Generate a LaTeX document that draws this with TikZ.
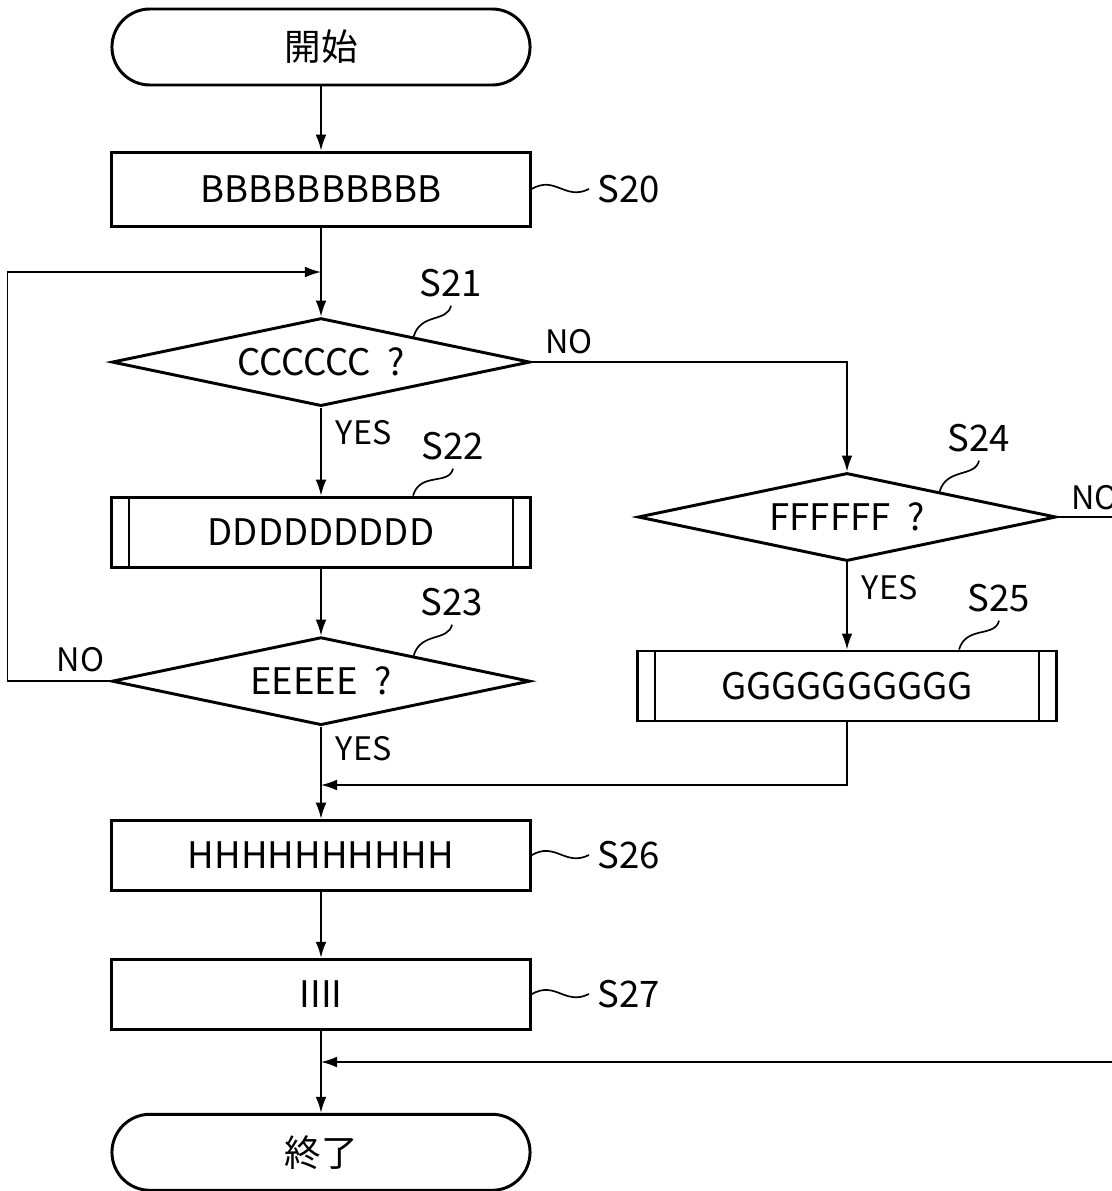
\documentclass[tikz,border=0pt]{standalone}
\usepackage{fontspec}
\setmainfont{Noto Sans CJK JP}
\usetikzlibrary{shapes.geometric,arrows.meta,calc}

\begin{document}
\begin{tikzpicture}[x=0.025cm, y=-0.025cm, line width=1.2pt, >={Latex[length=4mm, width=2.7mm]},
    every node/.style = {font=\fontsize{26}{31}\selectfont},
    term/.style = {draw, line width=2.1pt, rounded corners=0.95cm, minimum width=10.45cm, minimum height=1.9cm},
    proc/.style = {draw, line width=2.1pt, minimum width=10.45cm, minimum height=1.75cm},
    subproc/.style = {proc, path picture={
        \draw[line width=1.2pt] ([xshift=0.425cm]path picture bounding box.north west) -- ([xshift=0.425cm]path picture bounding box.south west)
          ([xshift=-0.425cm]path picture bounding box.north east) -- ([xshift=-0.425cm]path picture bounding box.south east);}},
    decision/.style = {draw, diamond, line width=2.1pt, aspect=4.75, inner sep=0pt, minimum width=10.45cm, minimum height=2.2cm},
    yesno/.style = {font=\fontsize{23}{26}\selectfont, inner sep=0pt},
    steplabel/.style = {inner sep=0.2cm}]
  \useasboundingbox (0,0) rectangle (1112,1191);

  % main column
  \node[term] (start) at (321,47) {開始};
  \node[proc, minimum height=1.85cm, node distance=3.55cm] (s_20) [below of=start] {BBBBBBBBBB};
  \node[decision, node distance=4.325cm] (s_21) [below of=s_20] {CCCCCC\hspace{0.45em}?};
  \node[subproc, node distance=4.25cm] (s_22) [below of=s_21] {DDDDDDDDD};
  \node[decision, node distance=3.725cm] (s_23) [below of=s_22] {EEEEE\hspace{0.45em}?};
  \node[proc, node distance=4.35cm] (s_26) [below of=s_23] {HHHHHHHHHH};
  \node[proc, node distance=3.475cm] (s_27) [below of=s_26] {IIII};
  \node[term, node distance=3.95cm] (end) [below of=s_27] {終了};

  % right column
  \node[decision] (s_24) at (847,517) {FFFFFF\hspace{0.45em}?};
  \node[subproc] (s_25) at (847,686) {GGGGGGGGGG};

  % junctions and off-page ends
  \coordinate (j_21) at (321,272);
  \coordinate (j_26) at (321,785);
  \coordinate (j_end) at (321,1062);
  \coordinate (exit_24) at (1112,517);
  \coordinate (entry_end) at (1112,1062);

  \draw[->] (start) -- (s_20);
  \draw[->] (s_20) -- (s_21);
  \draw[->] (s_21) -- node[yesno, right, pos=0.28, xshift=0.35cm] {YES} (s_22);
  \draw[->] (s_22) -- (s_23);
  \draw[->] (s_23.west) -- node[yesno, above, pos=0.29, yshift=0.2cm] {NO} ++(-103,0) |- (j_21);
  \draw[->] (s_21.east) -| node[yesno, above right, pos=0, xshift=0.32cm, yshift=0.18cm] {NO} (s_24);
  \draw (s_24.east) -- node[yesno, above right, pos=0, xshift=0.32cm, yshift=0.15cm] {NO} (exit_24);
  \draw[->] (s_24) -- node[yesno, right, pos=0.29, xshift=0.35cm] {YES} (s_25);
  \draw[->] (s_25) |- (j_26);
  \draw[->] (s_23) -- node[yesno, right, pos=0.24, xshift=0.35cm] {YES} (s_26);
  \draw[->] (s_26) -- (s_27);
  \draw[->] (s_27) -- (end);
  \draw[->] (entry_end) -- (j_end);

  % step numbers
  \node[steplabel] (l_20) at (629,189) {S20};
  \node[steplabel] (l_21) at (451,283) {S21};
  \node[steplabel] (l_22) at (453,446) {S22};
  \node[steplabel] (l_23) at (452,602) {S23};
  \node[steplabel] (l_24) at (979,438) {S24};
  \node[steplabel] (l_25) at (999,598) {S25};
  \node[steplabel] (l_26) at (629,855) {S26};
  \node[steplabel] (l_27) at (629,994) {S27};

  \draw (s_20.east) .. controls +(24,-14) and +(-24,12) .. (l_20.west);
  \draw (s_26.east) .. controls +(24,-14) and +(-24,12) .. (l_26.west);
  \draw (s_27.east) .. controls +(24,-14) and +(-24,12) .. (l_27.west);
  \draw ($(s_21.north)!0.44!(s_21.east)$) .. controls +(7,-24) and +(-4,17) .. (l_21.south);
  \draw ([xshift=2.3cm]s_22.north) .. controls +(7,-24) and +(-4,17) .. (l_22.south);
  \draw ($(s_23.north)!0.44!(s_23.east)$) .. controls +(7,-24) and +(-4,17) .. (l_23.south);
  \draw ($(s_24.north)!0.44!(s_24.east)$) .. controls +(7,-24) and +(-4,17) .. (l_24.south);
  \draw ([xshift=2.8cm]s_25.north) .. controls +(7,-24) and +(-4,17) .. (l_25.south);
\end{tikzpicture}
\end{document}
